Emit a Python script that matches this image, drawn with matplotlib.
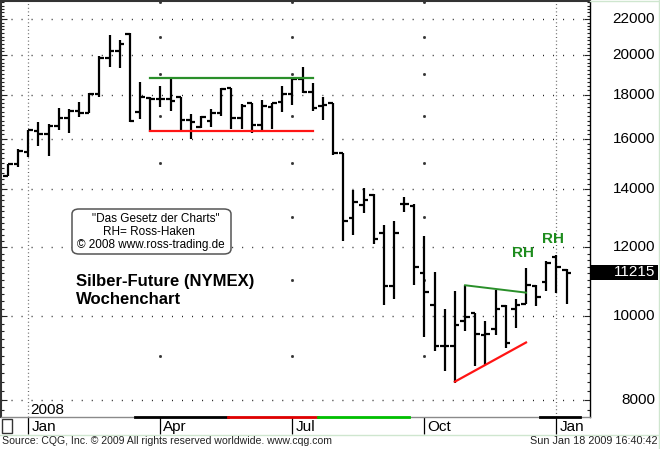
import matplotlib
matplotlib.use("Agg")
import matplotlib.pyplot as plt
from matplotlib.ticker import FixedLocator, MultipleLocator, NullFormatter
from matplotlib.patches import FancyBboxPatch, Rectangle
from matplotlib.lines import Line2D
import matplotlib.transforms as mtrans
import numpy as np
import pandas as pd

plt.rcParams['font.family'] = ['Liberation Sans', 'DejaVu Sans']

# weekly silver future bars (NYMEX), week ending Fridays
first_week = "2007-12-21"
opens = [14520, 14960, 15440, 16360, 16220, 16580, 16930, 17240, 17160, 18050,
         19850, 20220, 21140, 17200, 17820, 17780, 17780, 17910, 16850, 16530,
         16800, 17160, 18310, 16930, 17600, 16620, 17420, 17640, 18050, 18770,
         18150, 17470, 17600, 15400, 12960, 13410, 13790, 12450, 10820, 13480,
         13380, 11210, 10290, 9240, 9240, 9860, 10070, 9520, 9670, 10260,
         10190, 10320, 10820, 10940, 11700, 11300]
highs = [14960, 15560, 16400, 16760, 16670, 17380, 17330, 17640, 18100, 19950,
         21080, 20810, 21190, 18610, 17910, 18410, 18820, 17910, 17110, 17020,
         17330, 18310, 18310, 17560, 17600, 17730, 17600, 18410, 18770, 19380,
         18560, 17910, 17600, 15400, 13970, 14040, 13830, 12720, 12860, 13720,
         13450, 12380, 11230, 10180, 10680, 10850, 10070, 9860, 10710, 10290,
         10470, 11370, 10850, 11560, 11760, 11320]
lows = [14520, 14840, 15240, 15720, 15280, 16400, 16270, 16980, 17160, 17870,
        19380, 19330, 16760, 16890, 16310, 17420, 17240, 16360, 16000, 16490,
        16530, 17020, 16440, 16440, 16270, 16360, 16440, 17200, 17510, 18100,
        17240, 16850, 15320, 12200, 12410, 13140, 12100, 10290, 10470, 13170,
        10850, 9450, 9120, 8640, 8380, 9600, 8760, 8790, 9500, 9190,
        9690, 10320, 10260, 10700, 10620, 10320]
closes = [14960, 15480, 16400, 16220, 16580, 16930, 17240, 17160, 18050, 19850,
          20220, 20590, 16800, 17910, 17780, 17780, 17690, 16850, 16760, 16980,
          17160, 18260, 16930, 17470, 16620, 17470, 17600, 18050, 18770, 18150,
          17380, 17510, 15400, 12870, 13550, 13620, 12260, 10820, 12480, 13480,
          11380, 10650, 9240, 9240, 9760, 9980, 9530, 9540, 10190, 9310,
          10290, 10850, 10530, 11500, 11380, 11215]

# trend lines: (bar from, bar to), (price from, price to)
range_bars = [14, 30]
range_top = [18820, 18820]
range_bottom = [16360, 16360]
tri_top_bars = [45, 51]
tri_top = [10850, 10640]
tri_bottom_bars = [44, 51]
tri_bottom = [8400, 9320]

price_levels = [8000, 10000, 12000, 14000, 16000, 18000, 20000, 22000]
odd_levels = [9000, 11000, 13000, 15000, 17000, 19000, 21000, 23000]
last_price = "11215"

weeks = pd.date_range(first_week, periods=len(closes), freq="7D")
idx = np.arange(len(closes))

W, H = 660, 449
fig = plt.figure(figsize=(W / 100, H / 100), dpi=100)
ax = fig.add_axes([1 / W, 1 - 417 / H, 589 / W, 416 / H])
ax.set_yscale('log')
ax.set_xlim(-0.69, 57.3)
ax.set_ylim(7647, 23082)

# grid
for v in price_levels:
    ax.axhline(v, color='#222222', lw=1.0, ls=(0, (0.72, 6.5)), zorder=0)

month_bars = [i for i in idx if weeks[i].month in (1, 4, 7, 10)
              and (i == 0 or weeks[i - 1].month != weeks[i].month)]
for i in month_bars:
    if weeks[i].month == 1:
        ax.axvline(i, color='#555555', lw=0.9, ls=(0, (0.72, 2.2)), zorder=0)
    else:
        ax.plot([i] * len(odd_levels), odd_levels, ls='none', marker='s',
                ms=1.0, color='#333333', zorder=0)

# OHLC bars
ax.vlines(idx, lows, highs, color='black', lw=1.6, capstyle='butt', zorder=3)
ax.hlines(opens, idx - 0.45, idx, color='black', lw=1.6, zorder=3)
ax.hlines(closes, idx, idx + 0.45, color='black', lw=1.6, zorder=3)

# trend lines
ax.plot(range_bars, range_top, color='#2a8f2a', lw=1.6, zorder=4)
ax.plot(range_bars, range_bottom, color='#ff1414', lw=1.6, zorder=4)
ax.plot(tri_top_bars, tri_top, color='#2a8f2a', lw=1.4, zorder=4)
ax.plot(tri_bottom_bars, tri_bottom, color='#ff1414', lw=1.6, zorder=4)

# axes look
ax.yaxis.set_major_locator(FixedLocator(price_levels))
ax.yaxis.set_minor_locator(MultipleLocator(200))
ax.yaxis.set_major_formatter(NullFormatter())
ax.yaxis.set_minor_formatter(NullFormatter())
ax.tick_params(axis='y', which='both', direction='in', left=True, right=True,
               labelleft=False, labelright=False, color='#222222', width=0.8)
ax.tick_params(axis='y', which='major', length=4)
ax.tick_params(axis='y', which='minor', length=2.4)
ax.set_xticks(month_bars)
ax.set_xticklabels([])
ax.tick_params(axis='x', direction='out', length=12, width=0.9, color='black')
for s in ('left', 'top'):
    ax.spines[s].set_color('#333333')
    ax.spines[s].set_linewidth(1.5)
ax.spines['right'].set_color('black')
ax.spines['right'].set_linewidth(1.0)
ax.spines['bottom'].set_color('#8a8a8a')
ax.spines['bottom'].set_linewidth(1.0)

ylab = mtrans.blended_transform_factory(ax.transAxes, ax.transData)
for v in price_levels:
    ax.text(1 + 65 / 589, v, str(v), transform=ylab, ha='right', va='center',
            fontsize=11, clip_on=False)

xlab = mtrans.blended_transform_factory(ax.transData, ax.transAxes)
for i in month_bars:
    ax.text(i + 0.3, -0.024, weeks[i].strftime('%b'), transform=xlab,
            ha='left', va='center', fontsize=11, clip_on=False)

def axx(px):
    return (px - 1) / 589

def axy(py):
    return (417 - py) / 416

ax.text(axx(30), axy(410), "2008", transform=ax.transAxes, ha='left',
        va='center', fontsize=11)

# info box
box = FancyBboxPatch((axx(72), axy(254)), axx(231) - axx(72), axy(209) - axy(254),
                     boxstyle="round,pad=0,rounding_size=0.012",
                     transform=ax.transAxes, fc='white', ec='#555555', lw=1.1,
                     zorder=5)
ax.add_patch(box)
narrow = ['Liberation Sans Narrow', 'Liberation Sans', 'DejaVu Sans']
ax.text(axx(156), axy(219), '"Das Gesetz der Charts"', transform=ax.transAxes,
        ha='center', va='center', fontsize=8.5, family=narrow, zorder=6)
ax.text(axx(149), axy(232), 'RH= Ross-Haken', transform=ax.transAxes,
        ha='center', va='center', fontsize=8.5, family=narrow, zorder=6)
ax.text(axx(151), axy(245), '© 2008 www.ross-trading.de', transform=ax.transAxes,
        ha='center', va='center', fontsize=8.5, family=narrow, zorder=6)

ax.text(axx(76), axy(281), 'Silber-Future (NYMEX)', transform=ax.transAxes,
        ha='left', va='center', fontsize=12, fontweight='bold')
ax.text(axx(76), axy(300), 'Wochenchart', transform=ax.transAxes,
        ha='left', va='center', fontsize=12, fontweight='bold')

ax.text(axx(523), axy(253), 'RH', transform=ax.transAxes, ha='center',
        va='center', fontsize=11, fontweight='bold', color='#1e8c1e')
ax.text(axx(553), axy(239), 'RH', transform=ax.transAxes, ha='center',
        va='center', fontsize=11, fontweight='bold', color='#1e8c1e')

# figure decorations (pixel helpers)
def fx(px):
    return px / W

def fy(py):
    return 1 - py / H

fig.add_artist(Rectangle((fx(590), fy(280)), fx(658) - fx(590), fy(265) - fy(280),
                         transform=fig.transFigure, fc='black', ec='none'))
fig.text(fx(655), fy(272.5), last_price, color='white', ha='right', va='center',
         fontsize=11)

strip = [(135, 228, 'black'), (228, 318, '#e00000'), (318, 409, '#00c000'),
         (540, 580, 'black')]
for x0, x1, c in strip:
    fig.add_artist(Line2D([fx(x0), fx(x1)], [fy(417), fy(417)], color=c, lw=2.0,
                          transform=fig.transFigure))

fig.add_artist(Rectangle((fx(2), fy(433)), fx(10), fy(419) - fy(433),
                         transform=fig.transFigure, fc='white', ec='#333333', lw=1))

light = '#cfe6cf'
fig.add_artist(Line2D([0, 1], [fy(434.5), fy(434.5)], color=light, lw=1,
                      transform=fig.transFigure))
fig.add_artist(Line2D([fx(658.5), fx(658.5)], [0, 1], color=light, lw=1,
                      transform=fig.transFigure))
fig.add_artist(Line2D([fx(590), 1], [fy(0.5), fy(0.5)], color=light, lw=1,
                      transform=fig.transFigure))

fig.text(fx(2), fy(441), 'Source: CQG, Inc. © 2009 All rights reserved worldwide. www.cqg.com',
         ha='left', va='center', fontsize=7.6, family=narrow, color='#222222')
fig.text(fx(657), fy(441), 'Sun Jan 18 2009 16:40:42', ha='right', va='center',
         fontsize=7.8, family=narrow, color='#222222')

fig.savefig('out.png', dpi=100)
